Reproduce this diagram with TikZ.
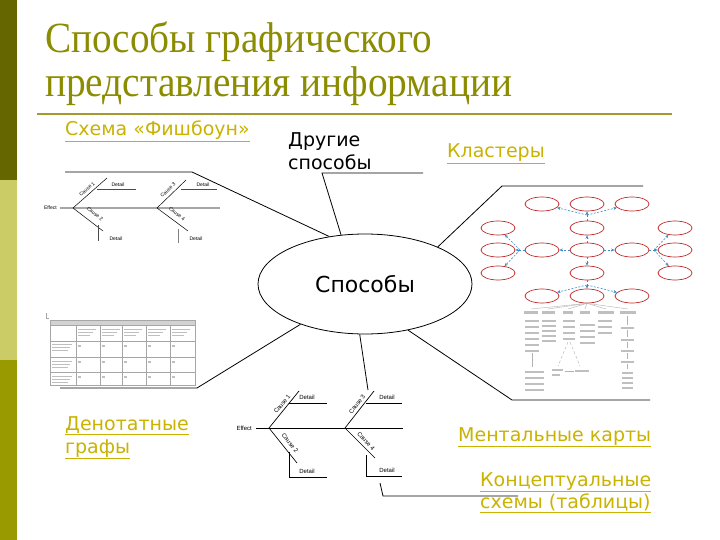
\documentclass[tikz,border=0pt]{standalone}
\usepackage{fontspec}
\setmainfont{DejaVu Sans}
\newfontfamily\titlefont{Liberation Serif}
\newfontfamily\smallfont{Liberation Sans}
\usetikzlibrary{arrows.meta,shapes.geometric}
\definecolor{olivedark}{HTML}{666600}
\definecolor{olivelight}{HTML}{CCCC66}
\definecolor{olivemid}{HTML}{999900}
\definecolor{titlecol}{HTML}{8C8C00}
\definecolor{rulecol}{HTML}{A69A2E}
\definecolor{linkcol}{HTML}{C9B300}
\definecolor{clusred}{HTML}{C0282A}
\definecolor{arrblue}{HTML}{3A8FC8}
\tikzset{
  lbl/.style={inner sep=0pt, anchor=base west, font=\fontsize{19}{22}\selectfont},
  link/.style={lbl, text=linkcol},
  conn/.style={draw=black, line width=0.8pt},
  spine/.style={draw=gray!70, line width=1.6pt},
  bone/.style={draw=black, line width=0.5pt},
  dline/.style={draw=gray!60!black, line width=0.5pt},
  tinyA/.style={inner sep=0pt, font=\smallfont\fontsize{5}{5}\selectfont},
  tinyB/.style={inner sep=0pt, font=\smallfont\fontsize{6}{6}\selectfont},
  clus/.style={ellipse, draw=clusred, line width=0.7pt, fill=white, minimum width=34pt, minimum height=14pt, inner sep=0pt},
  carr/.style={draw=arrblue, dash pattern=on 2pt off 1.5pt, line width=0.6pt, -{Stealth[length=3.5pt,width=3pt]}},
  cline/.style={draw=arrblue, dash pattern=on 2pt off 1.5pt, line width=0.6pt},
  txtbar/.style={fill=gray!50},
  gridl/.style={draw=gray!70, line width=0.4pt},
  tline/.style={draw=gray!60, line width=0.4pt},
}
\begin{document}
\begin{tikzpicture}[x=1pt,y=-1pt]
\useasboundingbox (0,0) rectangle (720,540);
\fill[white] (0,0) rectangle (720,540);
\fill[olivedark] (0,0) rectangle (17,180);
\fill[olivelight] (0,180) rectangle (17,360);
\fill[olivemid] (0,360) rectangle (17,540);
% title
\node[inner sep=0pt, anchor=base west, text=titlecol, font=\titlefont\fontsize{43}{43}\selectfont] (title1) at (45,53) {\resizebox{387pt}{\height}{Способы графического}};
\node[inner sep=0pt, anchor=base west, text=titlecol, font=\titlefont\fontsize{43}{43}\selectfont] (title2) at (45,97) {\resizebox{467pt}{\height}{представления информации}};
\draw[rulecol, line width=2.5pt] (37,114) -- (672,114);

% central node
\node[ellipse, draw, line width=0.8pt, minimum width=214pt, minimum height=100pt, inner sep=0pt, font=\fontsize{22}{26}\selectfont] (c) at (365,284) {Способы};

% labels
\node[link] (fish) at (65,136) {\underline{Схема «Фишбоун»}};
\node[lbl] (oth1) at (288,147) {Другие};
\node[lbl] (oth2) at (288,170) {способы};
\node[link] (klast) at (447,158) {\underline{Кластеры}};
\node[link] (den1) at (65,430) {\underline{Денотатные}};
\node[link] (den2) at (65,453) {\underline{графы}};
\node[link] (ment) at (458,441) {\underline{Ментальные карты}};
\node[link] (kon1) at (480,486) {\underline{Концептуальные}};
\node[link] (kon2) at (480,508) {\underline{схемы (таблицы)}};

% connectors
\coordinate (f1) at (65,172); \coordinate (f2) at (192,172);
\draw[conn] (f1) -- (f2) -- (c.127);
\coordinate (o1) at (322,173); \coordinate (o2) at (423,173);
\draw[conn] (o2) -- (o1) -- (c.116);
\coordinate (k1) at (643,186); \coordinate (k2) at (502,186);
\draw[conn] (k1) -- (k2) -- (c.27);
\coordinate (d1) at (60,388); \coordinate (d2) at (197,388);
\draw[conn] (d1) -- (d2) -- (c.212);
\coordinate (m1) at (512,400); \coordinate (m2) at (650,400);
\draw[conn] (c.313) -- (m1) -- (m2);
\coordinate (bf) at (368,390);
\draw[conn] (c.264) -- (bf);
\coordinate (p1) at (380,483); \coordinate (p2) at (383,496); \coordinate (p3) at (518,496);
\draw[conn] (p1) -- (p2) -- (p3);

% top-left fishbone
\coordinate (s1) at (60,208); \coordinate (s2) at (220,208);
\draw[spine] (s1) -- (s2);
\node[tinyA, anchor=east] (eff1) at (57,208) {Effect};
\coordinate (j1) at (73,208); \coordinate (j2) at (157,208);
\coordinate (u1) at (107,178); \coordinate (l1) at (103,231);
\coordinate (u2) at (186,180); \coordinate (l2) at (188,231);
\draw[bone] (j1) -- (u1); \draw[bone] (j1) -- (l1);
\draw[bone] (j2) -- (u2); \draw[bone] (j2) -- (l2);
\node[tinyA, rotate=41] (ca1) at (87,189) {Cause 1};
\node[tinyA, rotate=-37] (ca2) at (95,214) {Cause 2};
\node[tinyA, rotate=44] (ca3) at (168,190) {Cause 3};
\node[tinyA, rotate=-37] (ca4) at (177,214) {Cause 4};
\draw[dline] (97,189) -- (136,189);
\node[tinyA] (dt1) at (118,185) {Detail};
\draw[dline] (181,189) -- (217,189);
\node[tinyA] (dt2) at (203,185) {Detail};
\draw[dline] (98,225) -- (98,241);
\node[tinyA] (dt3) at (116,239) {Detail};
\draw[dline, gray] (178,229) -- (178,243);
\node[tinyA] (dt4) at (196,239) {Detail};

% bottom fishbone
\coordinate (bs1) at (256,428); \coordinate (bs2) at (403,428);
\draw[bone, line width=0.9pt] (bs1) -- (bs2);
\node[tinyB, anchor=east] (eff2) at (252,428) {Effect};
\coordinate (bj1) at (269,428); \coordinate (bj2) at (345,428);
\coordinate (bu1) at (299,391); \coordinate (bl1) at (297,463);
\coordinate (bu2) at (374,391); \coordinate (bl2) at (375,458);
\draw[bone, line width=0.7pt] (bj1) -- (bu1); \draw[bone, line width=0.7pt] (bj1) -- (bl1);
\draw[bone, line width=0.7pt] (bj2) -- (bu2); \draw[bone, line width=0.7pt] (bj2) -- (bl2);
\node[tinyB, rotate=51] (bc1) at (282,404) {Cause 1};
\node[tinyB, rotate=-51] (bc2) at (290,443) {Cause 2};
\node[tinyB, rotate=52] (bc3) at (357,404) {Cause 3};
\node[tinyB, rotate=-47] (bc4) at (366,441) {Cause 4};
\draw[bone] (289,403) -- (327,403);
\node[tinyB] (bd1) at (307,397) {Detail};
\draw[bone] (366,403) -- (402,403);
\node[tinyB] (bd2) at (387,397) {Detail};
\draw[bone] (289,452) -- (289,477) -- (327,477);
\node[tinyB] (bd3) at (307,471) {Detail};
\draw[bone] (366,455) -- (366,476) -- (402,476);
\node[tinyB] (bd4) at (387,470) {Detail};

% table
\fill[gray!35] (50,320) rectangle (195,325);
\draw[gridl] (50,320) rectangle (195,385);
\foreach \yy in {325,341,357,372} \draw[gridl] (50,\yy) -- (195,\yy);
\foreach \xx in {76,100,122,146,170} \draw[gridl] (\xx,325) -- (\xx,385);
\draw[gridl] (46,313) -- (46,318) -- (49,318);
\foreach \xx in {78,102,124,148,172} {
  \fill[txtbar] (\xx,329) rectangle ({\xx+18},330.2);
  \fill[txtbar] (\xx,332) rectangle ({\xx+15},333.2);
  \fill[txtbar] (\xx,335) rectangle ({\xx+12},336.2);
  \foreach \yy in {345,361,376} \fill[txtbar] (\xx,\yy) rectangle ({\xx+3},{\yy+1.5});
}
\foreach \yy in {344,361,376} {
  \fill[txtbar] (52,\yy) rectangle (72,{\yy+1.2});
  \fill[txtbar] (52,{\yy+3}) rectangle (70,{\yy+4.2});
  \fill[txtbar] (52,{\yy+6}) rectangle (68,{\yy+7.2});
}

% clusters
\node[clus] (cA1) at (542,204) {};
\node[clus] (cA2) at (587,204) {};
\node[clus] (cA3) at (632,204) {};
\node[clus] (cB1) at (498,228) {};
\node[clus] (cB2) at (587,228) {};
\node[clus] (cB3) at (675,228) {};
\node[clus] (cR1) at (498,250) {};
\node[clus] (cR2) at (542,250) {};
\node[clus] (cR3) at (587,250) {};
\node[clus] (cR4) at (632,250) {};
\node[clus] (cR5) at (675,250) {};
\node[clus] (cE1) at (498,273) {};
\node[clus] (cE2) at (587,273) {};
\node[clus] (cE3) at (675,273) {};
\node[clus] (cG1) at (542,296) {};
\node[clus] (cG2) at (587,296) {};
\node[clus] (cG3) at (632,296) {};
\coordinate (hL) at (520,250); \coordinate (hR) at (654,250);
\coordinate (hT) at (587,215); \coordinate (hB) at (587,285);
\draw[carr] (cR3) -- (cB2); \draw[carr] (cR3) -- (cE2);
\draw[carr] (cR3) -- (cR2); \draw[carr] (cR3) -- (cR4);
\draw[cline] (cR2) -- (hL);
\draw[carr] (hL) -- (cB1); \draw[carr] (hL) -- (cR1); \draw[carr] (hL) -- (cE1);
\draw[cline] (cR4) -- (hR);
\draw[carr] (hR) -- (cB3); \draw[carr] (hR) -- (cR5); \draw[carr] (hR) -- (cE3);
\draw[cline] (cB2) -- (hT);
\draw[carr] (hT) -- (cA1); \draw[carr] (hT) -- (cA2); \draw[carr] (hT) -- (cA3);
\draw[cline] (cE2) -- (hB);
\draw[carr] (hB) -- (cG1); \draw[carr] (hB) -- (cG2); \draw[carr] (hB) -- (cG3);

% mental map tree
\foreach \xx/\ww in {531/14,548/13,568/10,585/10,606/16,628/16} {
  \draw[tline] (cG2.south) -- (\xx,309);
  \fill[txtbar] ({\xx-\ww/2},311) rectangle ({\xx+\ww/2},313.5);
}
\foreach \yy in {320,326,332,338,344,350} \fill[txtbar] (525,\yy) rectangle (539,{\yy+1.5});
\draw[tline] (532,353) -- (532,367);
\foreach \yy in {371,377,383,389} \fill[txtbar] (525,\yy) rectangle (544,{\yy+1.5});
\foreach \yy in {320,325,330,335,340} \fill[txtbar] (542,\yy) rectangle (556,{\yy+1.5});
\foreach \yy in {320,326,332,338} \fill[txtbar] (563,\yy) rectangle (575,{\yy+1.5});
\draw[tline, densely dashed] (568,342) -- (558,366);
\draw[tline, densely dashed] (570,342) -- (580,366);
\fill[txtbar] (552,369) rectangle (563,370.5);
\fill[txtbar] (552,374) rectangle (560,375.5);
\draw[tline] (565,371) -- (574,371);
\fill[txtbar] (575,370) rectangle (589,371.5);
\foreach \yy in {324,330,336,342} \fill[txtbar] (580,\yy) rectangle (595,{\yy+1.5});
\foreach \yy in {320,326,332} \fill[txtbar] (598,\yy) rectangle (612,{\yy+1.5});
\foreach \yy in {327,339,350,361} \fill[txtbar] (621,\yy) rectangle (634,{\yy+1.5});
\draw[tline] (627,316) -- (627,325);
\draw[tline] (627,330) -- (627,337);
\draw[tline] (627,342) -- (627,348);
\draw[tline] (627,353) -- (627,359);
\draw[tline] (627,364) -- (627,369);
\foreach \yy in {372,377,382,387} \fill[txtbar] (622,\yy) rectangle (633,{\yy+1.5});
\end{tikzpicture}
\end{document}
